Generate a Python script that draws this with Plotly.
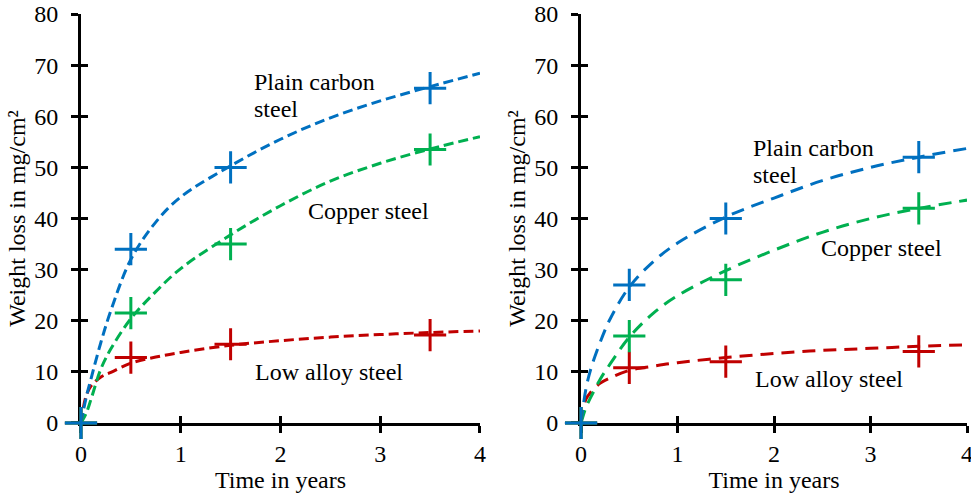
import plotly.graph_objects as go

# ---- data ----
years_pts = [0, 0.5, 1.5, 3.5]
left_plain = [0, 34, 50, 65.5]
left_copper = [0, 21.5, 35, 53.5]
left_low = [0, 12.8, 15.4, 17.2]
right_plain = [0, 27, 40, 52]
right_copper = [0, 17, 28, 42]
right_low = [0, 10.8, 12, 14]

# trend curves
curve_x = [0, 0.05, 0.1, 0.2, 0.3, 0.5, 0.75, 1, 1.5, 2, 2.5, 3, 3.5, 4]
left_plain_curve = [0, 4.8, 8.6, 15.8, 22.0, 32.0, 39.3, 44.2, 50.3, 55.5, 59.7, 63.0, 65.8, 68.4]
left_copper_curve = [0, 1.8, 4.6, 10.6, 14.5, 20.4, 25.7, 30.2, 36.8, 42.5, 47.3, 50.8, 53.6, 56.0]
left_low_curve = [0, 5.2, 7.2, 9.0, 9.9, 11.7, 12.9, 13.8, 15.2, 16.1, 16.8, 17.3, 17.7, 18.0]
right_plain_curve = [0, 6.6, 10.5, 15.9, 20.3, 26.6, 31.6, 35.2, 40.3, 44.0, 47.4, 50.0, 52.0, 53.7]
right_copper_curve = [0, 3.0, 5.0, 8.6, 11.5, 16.8, 21.5, 24.9, 29.8, 33.8, 37.3, 40.0, 42.0, 43.6]
right_low_curve = [0, 4.6, 6.0, 7.8, 8.8, 10.3, 11.1, 11.8, 12.8, 13.6, 14.2, 14.6, 15.0, 15.3]

x_ticks = [0, 1, 2, 3, 4]
y_ticks = [0, 10, 20, 30, 40, 50, 60, 70, 80]

colors = {"Plain carbon steel": "#0070C0", "Copper steel": "#00B050", "Low alloy steel": "#C00000"}

FONT = "Liberation Serif, Times New Roman, serif"
FS = 24

fig = go.Figure()

panels = [
    ("x", "y", {"Plain carbon steel": (left_plain, left_plain_curve),
                "Copper steel": (left_copper, left_copper_curve),
                "Low alloy steel": (left_low, left_low_curve)}, "10px,5px"),
    ("x2", "y2", {"Plain carbon steel": (right_plain, right_plain_curve),
                  "Copper steel": (right_copper, right_copper_curve),
                  "Low alloy steel": (right_low, right_low_curve)}, "13px,8px"),
]

for xa, ya, data, dash in panels:
    for name in ["Low alloy steel", "Copper steel", "Plain carbon steel"]:
        fig.add_trace(go.Scatter(
            x=curve_x, y=data[name][1], xaxis=xa, yaxis=ya, mode="lines",
            line=dict(color=colors[name], width=3, dash=dash, shape="spline"),
            showlegend=False, hoverinfo="skip", cliponaxis=False))
    for name in ["Low alloy steel", "Copper steel", "Plain carbon steel"]:
        fig.add_trace(go.Scatter(
            x=years_pts, y=data[name][0], xaxis=xa, yaxis=ya, mode="markers",
            marker=dict(symbol="cross-thin", size=23, color=colors[name],
                        line=dict(color=colors[name], width=3)),
            showlegend=False, name=name, cliponaxis=False))

for xa, ya in [("x3", "y"), ("x", "y3"), ("x4", "y2"), ("x2", "y4")]:
    fig.add_trace(go.Scatter(x=[], y=[], xaxis=xa, yaxis=ya, showlegend=False))

ydom = [0.1489, 0.9718]
xdom1 = [0.0834, 0.4943]
xdom2 = [0.5984, 0.9959]

common_x = dict(range=[0, 4], tickvals=x_ticks, showgrid=False, zeroline=False,
                showline=True, linecolor="black", linewidth=3,
                ticks="outside", ticklen=7, tickwidth=3, tickcolor="black",
                tickfont=dict(family=FONT, size=FS, color="black"),
                layer="below traces", automargin=False, ticklabeloverflow="allow")
common_y = dict(range=[0, 80], tickvals=y_ticks, showgrid=False, zeroline=False,
                showline=True, linecolor="black", linewidth=3,
                ticks="outside", ticklen=7, tickwidth=3, tickcolor="black",
                tickfont=dict(family=FONT, size=FS, color="black"),
                layer="below traces", ticklabelstandoff=8, automargin=False)
inside_x = dict(range=[0, 4], tickvals=x_ticks, showgrid=False, zeroline=False,
                showline=False, ticks="inside", ticklen=7, tickwidth=3, tickcolor="black",
                showticklabels=False, layer="below traces", automargin=False)
inside_y = dict(range=[0, 80], tickvals=y_ticks, showgrid=False, zeroline=False,
                showline=False, ticks="inside", ticklen=7, tickwidth=3, tickcolor="black",
                showticklabels=False, layer="below traces", automargin=False)

title_x = dict(text="Time in years", font=dict(family=FONT, size=FS, color="black"), standoff=4)
title_y = dict(text="Weight loss in mg/cm²", font=dict(family=FONT, size=FS, color="black"), standoff=2)

fig.update_layout(
    width=971, height=497,
    margin=dict(l=0, r=0, t=0, b=0, autoexpand=False),
    paper_bgcolor="white", plot_bgcolor="white",
    showlegend=False,
    font=dict(family=FONT, size=FS, color="black"),
    xaxis=dict(domain=xdom1, anchor="y", title=title_x, **common_x),
    yaxis=dict(domain=ydom, anchor="x", title=title_y, **common_y),
    xaxis2=dict(domain=xdom2, anchor="y2", title=title_x, **common_x),
    yaxis2=dict(domain=ydom, anchor="x2", title=title_y, **common_y),
    xaxis3=dict(domain=xdom1, anchor="y", overlaying="x", **inside_x),
    yaxis3=dict(domain=ydom, anchor="x", overlaying="y", **inside_y),
    xaxis4=dict(domain=xdom2, anchor="y2", overlaying="x2", **inside_x),
    yaxis4=dict(domain=ydom, anchor="x2", overlaying="y2", **inside_y),
)

ann_font = dict(family=FONT, size=FS, color="black")
annotations = [
    ("x", "y", 1.728, 66.7, "Plain carbon"),
    ("x", "y", 1.728, 61.5, "steel"),
    ("x", "y", 2.264, 41.5, "Copper steel"),
    ("x", "y", 1.735, 10.0, "Low alloy steel"),
    ("x2", "y2", 1.773, 53.8, "Plain carbon"),
    ("x2", "y2", 1.773, 48.6, "steel"),
    ("x2", "y2", 2.474, 34.2, "Copper steel"),
    ("x2", "y2", 1.794, 8.55, "Low alloy steel"),
]
for xa, ya, ax, ay, txt in annotations:
    fig.add_annotation(x=ax, y=ay, xref=xa, yref=ya, text=txt, showarrow=False,
                       xanchor="left", yanchor="middle", borderpad=0,
                       align="left", font=ann_font)

fig.write_html("out.html")
